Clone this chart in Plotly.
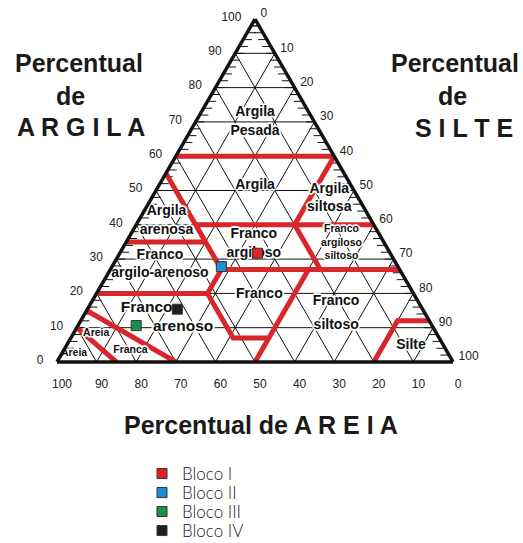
import plotly.graph_objects as go

# Sample compositions (%), one point per block
blocos = ["Bloco I", "Bloco II", "Bloco III", "Bloco IV"]
argila_blocos = [31.7, 27.8, 10.6, 15.4]
areia_blocos = [33.5, 44.6, 74.7, 61.9]
silte_blocos = [34.8, 27.6, 14.7, 22.7]

# Texture class boundaries, each a polyline of (argila, areia, silte) vertices
limites_classes = [
    [(60, 40, 0), (60, 0, 40)],
    [(60, 0, 40), (40, 20, 40)],
    [(55, 45, 0), (27, 45, 28)],
    [(40, 45, 15), (40, 0, 60)],
    [(35, 65, 0), (35, 45, 20)],
    [(40, 20, 40), (27, 20, 53)],
    [(27, 45, 28), (27, 0, 73)],
    [(20, 80, 0), (20, 52, 28), (27, 45, 28)],
    [(20, 52, 28), (7, 52, 41), (7, 43, 50)],
    [(0, 50, 50), (27, 23, 50)],
    [(0, 20, 80), (12, 8, 80), (12, 0, 88)],
    [(15, 85, 0), (0, 70, 30)],
    [(10, 90, 0), (0, 85, 15)],
]

# Class names and where they sit (argila, areia, silte)
classes_texto = ["Argila<br>Pesada", "Argila", "Argila<br>siltosa", "Argila<br>arenosa",
                 "Franco<br>argiloso", "Franco<br>argilo-arenoso", "Franco",
                 "Franco", "siltoso", "Silte"]
classes_argila = [70.0, 51.4, 47.7, 41.1, 34.4, 28.4, 19.6, 17.5, 10.6, 4.8]
classes_areia = [15.0, 24.3, 7.4, 51.8, 33.1, 59.8, 39.1, 20.8, 24.2, 8.2]
classes_silte = [15.0, 24.3, 44.9, 7.1, 32.5, 11.8, 41.3, 61.7, 65.2, 87.0]

classes_pequenas_texto = ["Franco<br>argiloso<br>siltoso", "Areia", "Franca", "Areia"]
classes_pequenas_argila = [34.7, 8.2, 3.3, 2.4]
classes_pequenas_areia = [10.8, 86.0, 79.8, 94.5]
classes_pequenas_silte = [54.5, 5.8, 16.9, 3.1]

classes_grandes_texto = ["Franco", "arenoso"]
classes_grandes_argila = [15.7, 10.3]
classes_grandes_areia = [69.5, 63.0]
classes_grandes_silte = [14.8, 26.7]

rotulos_valores = list(range(0, 101, 10))
marcas_hachura = list(range(2, 100, 2))
niveis_grade = list(range(10, 100, 10))

VERMELHO = "#d8262a"
cores_blocos = ["#e0231f", "#1b8fd6", "#17924a", "#231f1e"]
halo = ("1px 1px 1px #fff, -1px -1px 1px #fff, 1px -1px 1px #fff, -1px 1px 1px #fff, "
        "2px 0 1px #fff, -2px 0 1px #fff, 0 2px 1px #fff, 0 -2px 1px #fff")
FONTE = "Liberation Sans, Arial, sans-serif"
HACHURA = 2.2  # hatch length along the edges, in %

fig = go.Figure()

# 10 % grid: lines of constant argila, areia and silte
ga, gb, gc = [], [], []
for v in niveis_grade:
    ga += [v, v, None];          gb += [100 - v, 0, None];    gc += [0, 100 - v, None]
    ga += [100 - v, 0, None];    gb += [v, v, None];          gc += [0, 100 - v, None]
    ga += [100 - v, 0, None];    gb += [0, 100 - v, None];    gc += [v, v, None]
fig.add_trace(go.Scatterternary(a=ga, b=gb, c=gc, mode="lines",
                                line=dict(color="#111", width=1),
                                hoverinfo="skip", showlegend=False))

# short hatch marks every 2 % along the argila and silte edges
ha, hb, hc = [], [], []
for v in marcas_hachura:
    ha += [v, v, None];                hb += [100 - v, 100 - v - HACHURA, None];  hc += [0, HACHURA, None]
    ha += [100 - v, 100 - v, None];    hb += [0, HACHURA, None];                  hc += [v, v - HACHURA, None]
fig.add_trace(go.Scatterternary(a=ha, b=hb, c=hc, mode="lines",
                                line=dict(color="#111", width=1),
                                hoverinfo="skip", showlegend=False))

# class boundaries
for linha in limites_classes:
    fig.add_trace(go.Scatterternary(
        a=[p[0] for p in linha], b=[p[1] for p in linha], c=[p[2] for p in linha],
        mode="lines", line=dict(color=VERMELHO, width=5),
        hoverinfo="skip", showlegend=False))

# class names
for txt, a, b, c, tam in [
    (classes_texto, classes_argila, classes_areia, classes_silte, 14),
    (classes_pequenas_texto, classes_pequenas_argila, classes_pequenas_areia, classes_pequenas_silte, 10.5),
    (classes_grandes_texto, classes_grandes_argila, classes_grandes_areia, classes_grandes_silte, 15.5),
]:
    fig.add_trace(go.Scatterternary(
        a=a, b=b, c=c, mode="text", text=["<b>%s</b>" % t for t in txt],
        textposition="middle center",
        textfont=dict(family=FONTE, size=tam, color="#111", shadow=halo),
        hoverinfo="skip", showlegend=False))

# sample points, each with its own legend row
for i, (nome, a, b, c, cor) in enumerate(zip(blocos, argila_blocos, areia_blocos,
                                              silte_blocos, cores_blocos)):
    fig.add_trace(go.Scatterternary(
        a=[a], b=[b], c=[c], mode="markers", name=nome,
        legend="legend" if i == 0 else "legend%d" % (i + 1),
        marker=dict(symbol="square", size=10, color=cor, line=dict(color="#333", width=1))))


def eixo(comprimento):
    return dict(
        tickmode="array", tickvals=rotulos_valores,
        ticks="outside", ticklen=comprimento, tickcolor="rgba(0,0,0,0)",
        showgrid=False, linecolor="#111", linewidth=3.5,
        tickfont=dict(family=FONTE, size=12, color="#222"),
        title=dict(text=""),
    )


titulo = dict(family=FONTE, size=25, color="#1a1a1a")
anotacoes = []
for texto, x, y in [
    ("<b>Percentual</b>", 79, 63), ("<b>de</b>", 70, 96), ("<b>A R G I L A</b>", 81, 127),
    ("<b>Percentual</b>", 455, 63), ("<b>de</b>", 452, 96), ("<b>S I L T E</b>", 464, 128),
    ("<b>Percentual de A R E I A</b>", 261, 425),
]:
    anotacoes.append(dict(text=texto, x=x / 523, y=1 - y / 543, xref="paper", yref="paper",
                          xanchor="center", yanchor="middle", showarrow=False, font=titulo))

legendas = {}
for i, y in enumerate([474, 493, 512, 531]):
    legendas["legend" if i == 0 else "legend%d" % (i + 1)] = dict(
        x=142 / 523, y=1 - y / 543, xanchor="left", yanchor="middle",
        font=dict(family="Lato, sans-serif", size=17, color="#222", weight=300),
        bgcolor="rgba(0,0,0,0)", itemwidth=30)

fig.update_layout(
    width=523, height=543,
    margin=dict(l=0, r=0, t=0, b=0, autoexpand=False),
    paper_bgcolor="white", plot_bgcolor="white",
    ternary=dict(
        sum=100, bgcolor="white",
        domain=dict(x=[57 / 523, 453 / 523], y=[1 - 362 / 543, 1 - 19 / 543]),
        aaxis=eixo(10), baxis=eixo(10), caxis=eixo(4),
    ),
    showlegend=True,
    annotations=anotacoes,
    **legendas,
)

fig.write_html("out.html")
